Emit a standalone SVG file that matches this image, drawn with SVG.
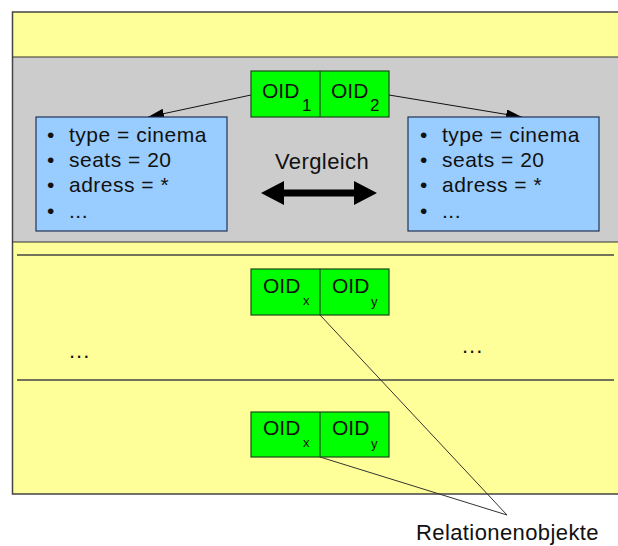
<svg xmlns="http://www.w3.org/2000/svg" width="618" height="546" viewBox="0 0 618 546">
  <style>
    text { font-family: "Liberation Sans", Arial, sans-serif; fill: #111; }
    .band-y { fill: #FFFF99; }
    .band-g { fill: #CCCCCC; }
    .frame { fill: none; stroke: #444; stroke-width: 1.5; }
    .sep { stroke: #333; stroke-width: 1.2; }
    .rule { stroke: #444; stroke-width: 1.5; }
    .oid { fill: #00FF00; stroke: #1a4a1a; stroke-width: 1.2; }
    .attr { fill: #99CCFF; stroke: #223355; stroke-width: 1.2; }
    .lbl { font-size: 21px; }
    .sub { font-size: 17px; }
    .subs { font-size: 13px; }
    .item { font-size: 21px; letter-spacing: 0.5px; }
    .big { font-size: 22px; letter-spacing: 0.4px; }
    .dots { font-size: 22px; letter-spacing: 1px; }
    .link { fill: none; stroke: #111; stroke-width: 1; }
    .thin { fill: none; stroke: #333; stroke-width: 1; }
  </style>
  <defs>
    <marker id="tri" viewBox="0 0 16 10" refX="16" refY="5" markerWidth="16" markerHeight="10" markerUnits="userSpaceOnUse" orient="auto">
      <path d="M0,0 L16,5 L0,10 z" fill="#000"/>
    </marker>
  </defs>

  <!-- background bands -->
  <g id="bands">
    <rect class="band-y" x="12" y="12" width="606" height="45"/>
    <rect class="band-g" x="12" y="57" width="606" height="185"/>
    <rect class="band-y" x="12" y="242" width="606" height="252"/>
    <path class="frame" d="M618,12 H12.5 V494 H618"/>
    <line class="sep" x1="12" y1="57" x2="618" y2="57"/>
    <line class="sep" x1="12" y1="242" x2="618" y2="242"/>
    <line class="rule" x1="17" y1="255" x2="614" y2="255"/>
    <line class="rule" x1="17" y1="380" x2="614" y2="380"/>
  </g>

  <!-- connectors -->
  <g id="connectors">
    <line class="link" x1="251" y1="95" x2="148" y2="117" marker-end="url(#tri)"/>
    <line class="link" x1="389" y1="95" x2="522" y2="117" marker-end="url(#tri)"/>
    <line class="thin" x1="320" y1="315" x2="507" y2="515"/>
    <line class="thin" x1="320" y1="457" x2="507" y2="515"/>
    <!-- comparison double arrow -->
    <path d="M261,193 L284,181 L284,189.5 L354,189.5 L354,181 L377,193 L354,205 L354,196.5 L284,196.5 L284,205 z" fill="#000"/>
  </g>

  <g id="oid-pair-top">
    <rect class="oid" x="251" y="71" width="138" height="46"/>
    <line class="oid" x1="320" y1="71" x2="320" y2="117"/>
    <text class="lbl" x="262" y="98">OID</text>
    <text class="sub" x="302" y="111">1</text>
    <text class="lbl" x="331" y="98">OID</text>
    <text class="sub" x="370" y="111">2</text>
  </g>

  <g id="attrs-left">
    <rect class="attr" x="36" y="117" width="191" height="114"/>
    <text class="item" x="47" y="142">•</text>
    <text class="item" x="69" y="142">type = cinema</text>
    <text class="item" x="47" y="167">•</text>
    <text class="item" x="69" y="167">seats = 20</text>
    <text class="item" x="47" y="192">•</text>
    <text class="item" x="69" y="192">adress = *</text>
    <text class="item" x="47" y="218">•</text>
    <text class="item" x="69" y="218">...</text>
  </g>

  <g id="attrs-right">
    <rect class="attr" x="408" y="117" width="191" height="114"/>
    <text class="item" x="420" y="142">•</text>
    <text class="item" x="442" y="142">type = cinema</text>
    <text class="item" x="420" y="167">•</text>
    <text class="item" x="442" y="167">seats = 20</text>
    <text class="item" x="420" y="192">•</text>
    <text class="item" x="442" y="192">adress = *</text>
    <text class="item" x="420" y="218">•</text>
    <text class="item" x="442" y="218">...</text>
  </g>

  <g id="vergleich">
    <text class="big" x="275" y="169">Vergleich</text>
  </g>

  <g id="oid-pair-mid">
    <rect class="oid" x="251" y="269" width="138" height="46"/>
    <line class="oid" x1="320" y1="269" x2="320" y2="315"/>
    <text class="lbl" x="263" y="293">OID</text>
    <text class="subs" x="303" y="305">x</text>
    <text class="lbl" x="332" y="293">OID</text>
    <text class="subs" x="371" y="306">y</text>
  </g>

  <g id="ellipsis-left"><text class="dots" x="69" y="358">...</text></g>
  <g id="ellipsis-right"><text class="dots" x="462" y="353">...</text></g>

  <g id="oid-pair-bottom">
    <rect class="oid" x="251" y="412" width="138" height="45"/>
    <line class="oid" x1="320" y1="412" x2="320" y2="457"/>
    <text class="lbl" x="263" y="435">OID</text>
    <text class="subs" x="303" y="447">x</text>
    <text class="lbl" x="332" y="435">OID</text>
    <text class="subs" x="371" y="448">y</text>
  </g>

  <g id="relationenobjekte">
    <text class="big" x="416" y="540">Relationenobjekte</text>
  </g>
</svg>
